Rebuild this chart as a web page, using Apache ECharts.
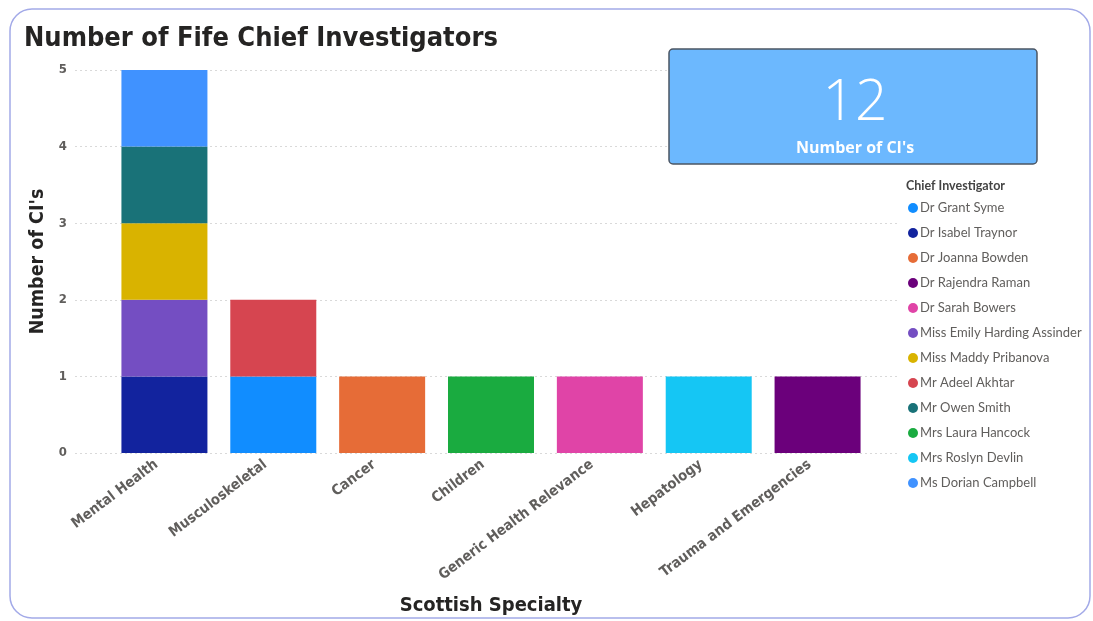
<!DOCTYPE html>
<html>
<head>
<meta charset="utf-8">
<title>Number of Fife Chief Investigators</title>
<script src="https://cdn.jsdelivr.net/npm/echarts@6/dist/echarts.min.js"></script>
<style>
  html, body { margin: 0; padding: 0; background: #ffffff; }
  #chart { width: 1093px; height: 621px; }
</style>
</head>
<body>
<div id="chart"></div>
<script>
// Scottish specialties on the x axis
const categories = ['Mental Health', 'Musculoskeletal', 'Cancer', 'Children',
  'Generic Health Relevance', 'Hepatology', 'Trauma and Emergencies'];

// One entry per chief investigator (legend order = stacking order)
const investigators = ['Dr Grant Syme', 'Dr Isabel Traynor', 'Dr Joanna Bowden', 'Dr Rajendra Raman',
  'Dr Sarah Bowers', 'Miss Emily Harding Assinder', 'Miss Maddy Pribanova', 'Mr Adeel Akhtar',
  'Mr Owen Smith', 'Mrs Laura Hancock', 'Mrs Roslyn Devlin', 'Ms Dorian Campbell'];
const investigatorSpecialty = ['Musculoskeletal', 'Mental Health', 'Cancer', 'Trauma and Emergencies',
  'Generic Health Relevance', 'Mental Health', 'Mental Health', 'Musculoskeletal',
  'Mental Health', 'Children', 'Hepatology', 'Mental Health'];
const investigatorCount = [1, 1, 1, 1, 1, 1, 1, 1, 1, 1, 1, 1];
const investigatorColors = ['#118DFF', '#12239E', '#E66C37', '#6B007B', '#E044A7', '#744EC2',
  '#D9B300', '#D64550', '#197278', '#1AAB40', '#15C6F4', '#4092FF'];

const yTicks = [0, 1, 2, 3, 4, 5];

const narrow = "'Liberation Sans Narrow', 'DejaVu Sans Condensed', sans-serif";
const ui = "Lato, 'Noto Sans', sans-serif";

const totalCIs = investigatorCount.reduce((a, b) => a + b, 0);

const series = investigators.map((name, i) => ({
  name: name,
  type: 'bar',
  stack: 'ci',
  xAxisIndex: 0,
  yAxisIndex: 0,
  barWidth: '79%',
  itemStyle: { color: investigatorColors[i] },
  emphasis: { disabled: true },
  data: categories.map(c => c === investigatorSpecialty[i] ? investigatorCount[i] : null)
}));

const chart = echarts.init(document.getElementById('chart'), null, { renderer: 'canvas' });
chart.setOption({
  animation: false,
  title: {
    text: 'Number of Fife Chief Investigators',
    left: 19, top: 20,
    textStyle: { fontFamily: narrow, fontWeight: 'bold', fontSize: 27, color: '#252423' }
  },
  legend: {
    orient: 'vertical',
    left: 903, top: 196,
    icon: 'circle',
    itemWidth: 10, itemHeight: 10,
    itemGap: 11,
    textStyle: { fontFamily: ui, fontSize: 13, color: '#605E5C', lineHeight: 14, padding: [0, 0, 0, -3] },
    data: investigators
  },
  grid: [
    { left: 110, right: 221, top: 70, bottom: 168 },
    { left: 75, right: 196, top: 70, bottom: 168 }
  ],
  xAxis: [
    {
      type: 'category', gridIndex: 0, data: categories,
      axisLine: { show: false }, axisTick: { show: false },
      axisLabel: { rotate: 37, margin: 4, interval: 0, fontFamily: narrow, fontWeight: 'bold',
        fontSize: 14.5, color: '#605E5C', padding: [0, 10, 0, 0] },
      name: 'Scottish Specialty', nameLocation: 'middle', nameGap: 143,
      nameTextStyle: { fontFamily: narrow, fontWeight: 'bold', fontSize: 20, color: '#252423' }
    },
    { type: 'category', gridIndex: 1, data: categories, show: false }
  ],
  yAxis: [
    { type: 'value', gridIndex: 0, min: 0, max: yTicks[yTicks.length - 1], interval: 1, show: false },
    {
      type: 'value', gridIndex: 1, min: 0, max: yTicks[yTicks.length - 1], interval: 1,
      axisLine: { show: false }, axisTick: { show: false },
      axisLabel: { margin: 8, fontFamily: narrow, fontWeight: 'bold', fontSize: 13, color: '#605E5C' },
      splitLine: { lineStyle: { color: '#D9D9D9', type: [2, 3], width: 1 } },
      name: "Number of CI's", nameLocation: 'middle', nameGap: 27, nameRotate: 90,
      nameTextStyle: { fontFamily: narrow, fontWeight: 'bold', fontSize: 19.5, color: '#252423' }
    }
  ],
  graphic: [
    {
      type: 'rect', silent: true, z: -10,
      shape: { x: 10, y: 9, width: 1080, height: 609, r: 22 },
      style: { fill: 'none', stroke: '#A3AAE8', lineWidth: 1.5 }
    },
    {
      type: 'rect', z: 100,
      shape: { x: 669, y: 49, width: 368, height: 115, r: 4 },
      style: { fill: '#6CB8FE', stroke: '#4B5563', lineWidth: 1.5 }
    },
    {
      type: 'text', z: 101,
      style: { text: String(totalCIs), x: 855, y: 104, align: 'center', verticalAlign: 'middle',
        fontFamily: "'Open Sans', sans-serif", fontWeight: 300, fontSize: 57, fill: '#ffffff' }
    },
    {
      type: 'text', z: 101,
      style: { text: "Number of CI's", x: 855, y: 148, align: 'center', verticalAlign: 'middle',
        fontFamily: "'Open Sans', sans-serif", fontWeight: 'bold', fontSize: 16, fill: '#ffffff' }
    },
    {
      type: 'text', z: 101,
      style: { text: 'Chief Investigator', x: 906, y: 186, align: 'left', verticalAlign: 'middle',
        fontFamily: ui, fontWeight: 'bold', fontSize: 12.5, fill: '#444444' }
    }
  ],
  series: series
});
</script>
</body>
</html>
